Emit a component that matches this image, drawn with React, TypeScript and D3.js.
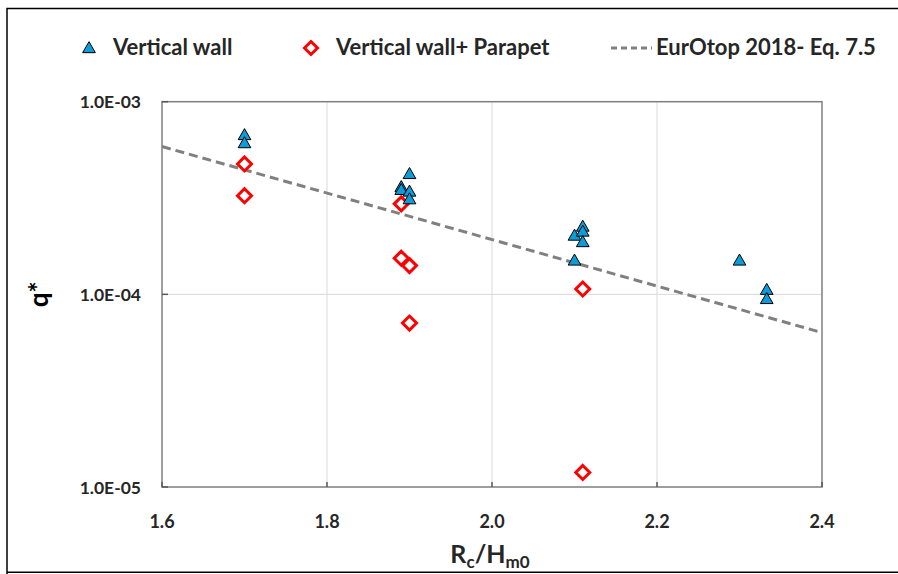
import React from "react";
import * as d3 from "d3";

const wallX = [1.7, 1.7, 1.89, 1.89, 1.9, 1.9, 1.9, 2.1, 2.1, 2.11, 2.11, 2.11, 2.3, 2.333, 2.333];
const wallQ = [6.72e-4, 6.1e-4, 3.61e-4, 3.49e-4, 4.22e-4, 3.42e-4, 3.12e-4, 2.02e-4, 1.5e-4, 2.25e-4, 2.12e-4, 1.87e-4, 1.5e-4, 1.057e-4, 9.47e-5];
const parX = [1.7, 1.7, 1.89, 1.89, 1.9, 1.9, 2.11, 2.11];
const parQ = [4.75e-4, 3.25e-4, 2.95e-4, 1.54e-4, 1.41e-4, 7.1e-5, 1.066e-4, 1.19e-5];
const eqX = [1.6, 2.4];
const eqQ = [5.85e-4, 6.33e-5];
const xTicks = [1.6, 1.8, 2.0, 2.2, 2.4];
const yTicks = [1e-5, 1e-4, 1e-3];
const yTickLabels = ["1.0E-05", "1.0E-04", "1.0E-03"];
const legendLabels = ["Vertical wall", "Vertical wall+ Parapet", "EurOtop 2018- Eq. 7.5"];

const FONT = "Lato, 'Open Sans', sans-serif";

export default function App() {
  const W = 898, H = 574;
  const L = 162, R = 822, T = 101.7, B = 487;
  const x = d3.scaleLinear().domain([1.6, 2.4]).range([L, R]);
  const y = d3.scaleLog().domain([1e-5, 1e-3]).range([B, T]);
  const tri = d3.symbol().type(d3.symbolTriangle).size(70)();
  const line = d3.line<number>().x((_, i) => x(eqX[i])).y((d) => y(d));

  const diamond = (cx: number, cy: number, r: number) =>
    `M${cx},${cy - r}L${cx + r},${cy}L${cx},${cy + r}L${cx - r},${cy}Z`;

  return (
    <svg width={W} height={H} style={{ position: "absolute", left: 0, top: 0 }} fontFamily={FONT}>
      <rect x={0} y={0} width={W} height={H} fill="#fff" />
      <path d={`M7,${H + 5}V8.5H${W + 5}M7,572.3H${W + 5}`} fill="none" stroke="#000" strokeWidth={1.5} />

      {/* grid */}
      {xTicks.slice(1, -1).map((t) => (
        <line key={"gx" + t} x1={x(t)} x2={x(t)} y1={T} y2={B} stroke="#d9d9d9" strokeWidth={1} />
      ))}
      {yTicks.slice(1, -1).map((t) => (
        <line key={"gy" + t} x1={L} x2={R} y1={y(t)} y2={y(t)} stroke="#d9d9d9" strokeWidth={1} />
      ))}
      {/* plot border */}
      <rect x={L} y={T} width={R - L} height={B - T} fill="none" stroke="#7f7f7f" strokeWidth={1.5} />
      {/* ticks */}
      {xTicks.map((t) => (
        <line key={"tx" + t} x1={x(t)} x2={x(t)} y1={B} y2={B - 5} stroke="#595959" strokeWidth={1.5} />
      ))}
      {yTicks.map((t) => (
        <line key={"ty" + t} x1={L} x2={L + 6} y1={y(t)} y2={y(t)} stroke="#595959" strokeWidth={1.5} />
      ))}

      {/* tick labels */}
      {xTicks.map((t) => (
        <text key={"lx" + t} x={x(t)} y={528} textAnchor="middle" fontSize={18} fontWeight="bold" fill="#262626">
          {t.toFixed(1)}
        </text>
      ))}
      {yTicks.map((t, i) => (
        <text key={"ly" + t} x={141} y={y(t) + 6.5} textAnchor="end" fontSize={17.5} fontWeight="bold" fill="#262626">
          {yTickLabels[i]}
        </text>
      ))}

      {/* axis titles */}
      <text transform={`translate(48,${(T + B) / 2}) rotate(-90)`} textAnchor="middle" fontSize={26} fontWeight="bold" fill="#000">
        q*
      </text>
      <text x={490} y={563} textAnchor="middle" fontSize={25} fontWeight="bold" fill="#262626">
        R<tspan fontSize={17} dy={5}>c</tspan>
        <tspan dy={-5}>/H</tspan>
        <tspan fontSize={17} dy={5}>m0</tspan>
      </text>

      {/* equation line */}
      <path d={line(eqQ) || ""} fill="none" stroke="#808080" strokeWidth={3} strokeDasharray="9,5" />

      {/* parapet */}
      {parX.map((v, i) => (
        <path key={"p" + i} d={diamond(x(v), y(parQ[i]), 7)} fill="#fff" stroke="#ff0000" strokeWidth={3} />
      ))}
      {/* wall */}
      {wallX.map((v, i) => (
        <path key={"w" + i} d={tri} transform={`translate(${x(v)},${y(wallQ[i]) + 1})`} fill="#0e9bd8" stroke="#000" strokeWidth={1} />
      ))}

      {/* legend */}
      <g>
        <path d={tri} transform="translate(89,49)" fill="#0e9bd8" stroke="#000" strokeWidth={1} />
        <text x={113} y={55} fontSize={22} fontWeight="bold" fill="#262626">{legendLabels[0]}</text>
        <path d={diamond(311, 48, 6.5)} fill="#fff" stroke="#ff0000" strokeWidth={3} />
        <text x={336} y={55} fontSize={22} fontWeight="bold" fill="#262626">{legendLabels[1]}</text>
        <line x1={611} x2={652} y1={48} y2={48} stroke="#808080" strokeWidth={3} strokeDasharray="6,4" />
        <text x={656} y={55} fontSize={22} fontWeight="bold" fill="#262626">{legendLabels[2]}</text>
      </g>
    </svg>
  );
}
